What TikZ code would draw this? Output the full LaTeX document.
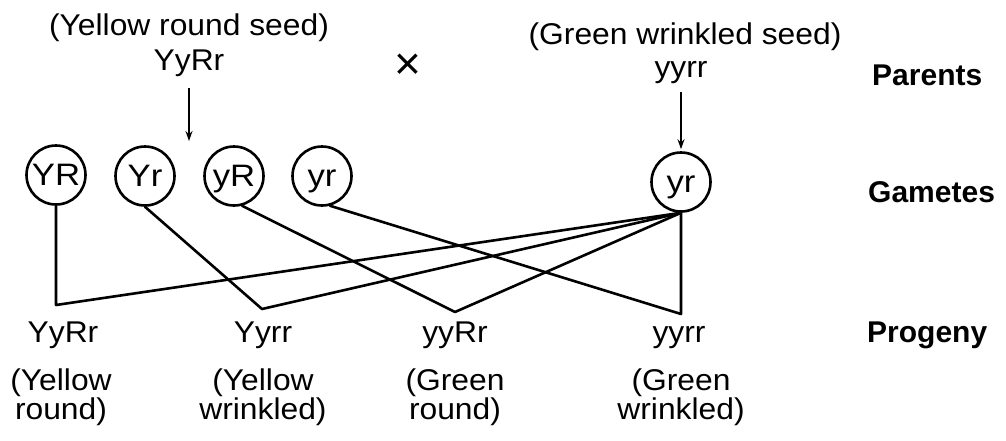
\documentclass[tikz,border=0pt]{standalone}
\usepackage{fontspec}
\usepackage{graphicx}
\setmainfont{Liberation Sans}
\usetikzlibrary{arrows.meta}
% slightly widened lettering
\newcommand\wtxt[1]{\scalebox{1.06}[1]{#1}}
\newcommand\gtxt[1]{\scalebox{1.12}[1]{#1}}
\begin{document}
\begin{tikzpicture}[x=1pt,y=-1pt,
  every node/.style={font=\fontsize{30}{30}\selectfont, inner sep=0pt},
  lbl/.style={anchor=base},
  head/.style={anchor=base west, font=\fontsize{30}{30}\selectfont\bfseries},
  gamete/.style={circle, draw, line width=2.6pt, minimum size=59pt,
                 text height=21pt, text depth=0pt,
                 font=\fontsize{31}{31}\selectfont},
  link/.style={line width=2.6pt, line join=round, line cap=round},
  down/.style={line width=1.6pt, -{Stealth[length=10pt,width=7pt]}},
]
\useasboundingbox (0,0) rectangle (1006,440);

% parents
\node[lbl] (pY)  at (189,35) {\wtxt{(Yellow round seed)}};
\node[lbl] (pYg) at (189,70) {\wtxt{YyRr}};
\node (cross) at (408,67) {\fontsize{46}{46}\selectfont ×};
\node[lbl] (pG)  at (685,44) {\wtxt{(Green wrinkled seed)}};
\node[lbl] (pGg) at (681,77) {\wtxt{yyrr}};

% row labels
\node[head] (hP) at (872,85)  {Parents};
\node[head] (hG) at (868,202) {Gametes};
\node[head] (hO) at (867,342) {Progeny};

% gametes
\node[gamete] (YR) at (56,175)  {\gtxt{YR}};
\node[gamete] (Yr) at (145,176) {\gtxt{Yr}};
\node[gamete] (yR) at (234,176) {\gtxt{yR}};
\node[gamete] (yr) at (322,176) {\gtxt{yr}};
\node[gamete] (gr) at (681,182) {\gtxt{yr}};

% meiosis arrows
\coordinate (aY) at (189,141);
\draw[down, shorten <=12pt] (pYg) -- (aY);
\draw[down, shorten <=9pt, shorten >=2pt] (pGg) -- (gr.north);

% fertilisation corners
\coordinate (C1) at (56,305);
\coordinate (C2) at (262,309);
\coordinate (C3) at (455,312);
\coordinate (C4) at (681,314);

\draw[link] (YR.south) -- (C1) -- (gr.south);
\draw[link] (Yr.south) -- (C2) -- (gr.south);
\draw[link] (yR.-75)   -- (C3) -- (gr.south);
\draw[link] (yr.-75)   -- (C4) -- (gr.south);

% progeny
\node[lbl] (o1) at (63,342)  {\wtxt{YyRr}};
\node[lbl] (o2) at (263,342) {\wtxt{Yyrr}};
\node[lbl] (o3) at (455,342) {\wtxt{yyRr}};
\node[lbl] (o4) at (679,342) {\wtxt{yyrr}};

\node[lbl] (d1a) at (61,390)  {\wtxt{(Yellow}};
\node[lbl] (d1b) at (61,419)  {\wtxt{round)}};
\node[lbl] (d2a) at (263,390) {\wtxt{(Yellow}};
\node[lbl] (d2b) at (263,419) {\wtxt{wrinkled)}};
\node[lbl] (d3a) at (455,390) {\wtxt{(Green}};
\node[lbl] (d3b) at (455,419) {\wtxt{round)}};
\node[lbl] (d4a) at (681,390) {\wtxt{(Green}};
\node[lbl] (d4b) at (681,419) {\wtxt{wrinkled)}};
\end{tikzpicture}
\end{document}
